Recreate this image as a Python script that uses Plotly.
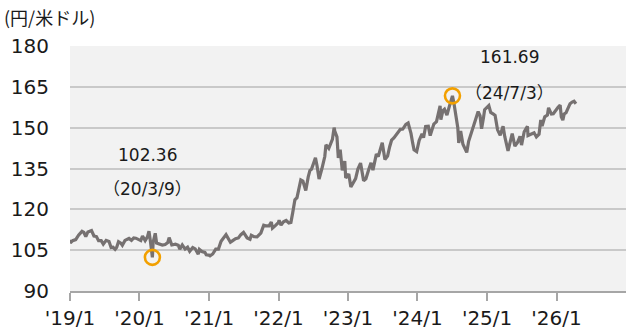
import plotly.graph_objects as go

# USD/JPY rate (yen per dollar), sampled roughly twice a month
dates = [
    "2019-01-01", "2019-01-03", "2019-01-15", "2019-01-31", "2019-02-15", "2019-02-28",
    "2019-03-05", "2019-03-15", "2019-03-25", "2019-04-05", "2019-04-24", "2019-05-07",
    "2019-05-20", "2019-05-31", "2019-06-14", "2019-06-25", "2019-07-10", "2019-07-25",
    "2019-08-05", "2019-08-15", "2019-08-26", "2019-09-03", "2019-09-13", "2019-09-25",
    "2019-10-03", "2019-10-17", "2019-10-30", "2019-11-07", "2019-11-20", "2019-12-02",
    "2019-12-13", "2019-12-30",
    "2020-01-08", "2020-01-17", "2020-01-31", "2020-02-12", "2020-02-20", "2020-02-28",
    "2020-03-09", "2020-03-13", "2020-03-24", "2020-03-31", "2020-04-15", "2020-04-30",
    "2020-05-15", "2020-05-29", "2020-06-05", "2020-06-19", "2020-07-08", "2020-07-23",
    "2020-07-31", "2020-08-13", "2020-08-28", "2020-09-10", "2020-09-21", "2020-10-07",
    "2020-10-20", "2020-11-05", "2020-11-11", "2020-11-24", "2020-12-10", "2020-12-17",
    "2020-12-31",
    "2021-01-06", "2021-01-20", "2021-02-05", "2021-02-19", "2021-03-05", "2021-03-31",
    "2021-04-14", "2021-04-23", "2021-05-07", "2021-05-20", "2021-06-04", "2021-06-17",
    "2021-07-01", "2021-07-20", "2021-08-04", "2021-08-11", "2021-08-25", "2021-09-10",
    "2021-09-30", "2021-10-15", "2021-10-29", "2021-11-12", "2021-11-24", "2021-11-30",
    "2021-12-15", "2021-12-31",
    "2022-01-04", "2022-01-14", "2022-01-27", "2022-02-10", "2022-02-24", "2022-03-07",
    "2022-03-16", "2022-03-28", "2022-04-08", "2022-04-20", "2022-04-28", "2022-05-09",
    "2022-05-24", "2022-06-06", "2022-06-15", "2022-06-23", "2022-07-14", "2022-07-22",
    "2022-08-02", "2022-08-17", "2022-09-01", "2022-09-07", "2022-09-22", "2022-10-11",
    "2022-10-20", "2022-10-24", "2022-11-04", "2022-11-11", "2022-11-21", "2022-12-02",
    "2022-12-15", "2022-12-20",
    "2023-01-05", "2023-01-16", "2023-01-31", "2023-02-10", "2023-02-22", "2023-03-08",
    "2023-03-24", "2023-04-05", "2023-04-20", "2023-05-02", "2023-05-12", "2023-05-30",
    "2023-06-09", "2023-06-20", "2023-06-30", "2023-07-14", "2023-07-28", "2023-08-08",
    "2023-08-18", "2023-08-30", "2023-09-15", "2023-10-03", "2023-10-16", "2023-11-01",
    "2023-11-13", "2023-11-28", "2023-12-07", "2023-12-14", "2023-12-28",
    "2024-01-10", "2024-01-25", "2024-02-02", "2024-02-13", "2024-02-27", "2024-03-08",
    "2024-03-27", "2024-04-10", "2024-04-29", "2024-05-03", "2024-05-14", "2024-05-22",
    "2024-06-04", "2024-06-14", "2024-06-26", "2024-07-03", "2024-07-11", "2024-07-24",
    "2024-07-31", "2024-08-05", "2024-08-15", "2024-08-27", "2024-09-16", "2024-09-26",
    "2024-10-04", "2024-10-15", "2024-10-31", "2024-11-15", "2024-11-25", "2024-12-03",
    "2024-12-13", "2024-12-19",
    "2025-01-10", "2025-01-20", "2025-02-03", "2025-02-12", "2025-02-25", "2025-03-11",
    "2025-03-26", "2025-04-04", "2025-04-21", "2025-05-02", "2025-05-13", "2025-05-27",
    "2025-06-10", "2025-06-23", "2025-07-01", "2025-07-15", "2025-08-01", "2025-08-04",
    "2025-08-20", "2025-09-05", "2025-09-17", "2025-10-01", "2025-10-10", "2025-10-17",
    "2025-10-31", "2025-11-14", "2025-11-20", "2025-12-05", "2025-12-15", "2025-12-26",
    "2026-01-09", "2026-01-20", "2026-01-26", "2026-02-03", "2026-02-10", "2026-02-20",
    "2026-03-03", "2026-03-13", "2026-03-24", "2026-04-03", "2026-04-13",
]
usdjpy = [
    108.8, 107.7, 108.5, 108.9, 110.5, 111.4,
    111.9, 111.5, 110.0, 111.7, 112.2, 110.2,
    110.0, 108.5, 108.5, 107.2, 108.6, 108.2,
    106.0, 106.1, 105.3, 106.0, 108.1, 107.6,
    106.8, 108.6, 108.9, 109.3, 108.6, 109.5,
    109.4, 108.8,
    108.5, 110.2, 108.5, 109.9, 112.0, 108.1,
    102.36, 107.9, 111.2, 107.6, 107.2, 106.9,
    107.1, 107.8, 109.6, 106.9, 107.2, 106.8,
    105.4, 106.9, 105.4, 106.1, 104.6, 106.0,
    105.5, 103.5, 105.3, 104.5, 104.2, 103.3,
    103.2,
    102.9, 103.6, 105.4, 105.4, 108.3, 110.7,
    109.0, 107.9, 108.6, 109.2, 109.5, 110.7,
    111.5, 109.5, 109.0, 110.5, 110.0, 109.9,
    111.3, 114.2, 113.9, 113.9, 115.3, 113.1,
    114.0, 115.1,
    116.0, 114.2, 115.4, 115.9, 115.0, 115.2,
    118.6, 123.5, 124.3, 128.5, 130.8, 130.4,
    126.9, 131.9, 134.3, 134.7, 138.9, 136.1,
    131.1, 135.0, 139.4, 143.7, 142.4, 145.7,
    150.0, 148.7, 146.6, 138.9, 141.9, 134.3,
    137.7, 131.5,
    133.0, 128.2, 130.1, 131.3, 134.8, 137.0,
    130.5, 131.2, 134.6, 137.1, 134.4, 140.3,
    139.4, 141.9, 144.5, 138.3, 139.6, 143.0,
    145.4, 146.2, 147.8, 149.4, 149.5, 151.2,
    151.7, 147.9, 144.3, 141.9, 141.2,
    145.3, 147.7, 146.3, 150.4, 150.5, 147.1,
    151.3, 152.2, 158.0, 152.9, 156.3, 156.8,
    154.6, 157.2, 160.1, 161.69, 158.9, 153.9,
    150.0, 144.4, 148.8, 143.9, 140.9, 145.0,
    146.6, 149.3, 152.8, 155.9, 154.4, 149.6,
    153.6, 156.6,
    158.1, 155.6, 155.0, 154.5, 149.2, 147.2,
    150.5, 146.7, 141.5, 144.9, 147.8, 143.2,
    144.6, 146.8, 143.6, 148.5, 150.5, 147.1,
    147.5, 148.1, 146.6, 147.6, 152.8, 150.6,
    154.0, 154.6, 157.3, 155.0, 155.1, 156.4,
    157.5, 158.3, 154.0, 152.8, 155.0, 155.5,
    157.5, 158.8, 159.4, 159.7, 158.8,
]

# Highlighted extremes: low of 2020-03-09 and high of 2024-07-03
mark_dates = ["2020-03-09", "2024-07-03"]
mark_values = [102.36, 161.69]
mark_labels = ["(20/3/9)", "(24/7/3)"]

tick_dates = ["2019-01-01", "2020-01-01", "2021-01-01", "2022-01-01",
              "2023-01-01", "2024-01-01", "2025-01-01", "2026-01-01"]
tick_text = ["'19/1", "'20/1", "'21/1", "'22/1", "'23/1", "'24/1", "'25/1", "'26/1"]
y_ticks = [90, 105, 120, 135, 150, 165, 180]

FONT = "DejaVu Sans, Noto Sans CJK JP, sans-serif"
LINE_GRAY = "#767171"
ORANGE = "#F2A000"

fig = go.Figure()
fig.add_trace(go.Scatter(
    x=dates, y=usdjpy, mode="lines",
    line=dict(color=LINE_GRAY, width=3.2),
    hoverinfo="skip", showlegend=False,
))
fig.add_trace(go.Scatter(
    x=mark_dates, y=mark_values, mode="markers",
    marker=dict(symbol="circle-open", size=15, color=ORANGE,
                line=dict(color=ORANGE, width=2.6)),
    hoverinfo="skip", showlegend=False,
))

# value and date labels for the two marked points
label_offsets = [(-5, 140.0, 127.4), (57, 175.9, 162.7)]
for d, v, lab, (dx, y_val, y_date) in zip(mark_dates, mark_values, mark_labels, label_offsets):
    fig.add_annotation(x=d, y=y_val, xref="x", yref="y", text=f"{v:.2f}",
                       showarrow=False, xshift=dx,
                       font=dict(family=FONT, size=17, color="#1a1a1a"))
    full = lab.replace("(", "\uff08").replace(")", "\uff09")
    fig.add_annotation(x=d, y=y_date, xref="x", yref="y", text=full,
                       showarrow=False, xshift=dx,
                       font=dict(family=FONT, size=17, color="#1a1a1a"))

fig.add_annotation(x=0, y=1, xref="paper", yref="paper", text="(円/米ドル)",
                   xanchor="left", yanchor="middle", showarrow=False,
                   xshift=-68, yshift=29,
                   font=dict(family="Noto Sans CJK JP, sans-serif", size=18, color="#1a1a1a"))

fig.update_layout(
    width=626, height=331,
    margin=dict(l=70, r=0, t=46, b=40),
    paper_bgcolor="white",
    plot_bgcolor="#F2F2F2",
    font=dict(family=FONT, size=20, color="#1a1a1a"),
)
fig.update_xaxes(
    type="date", range=["2019-01-01", "2027-01-01"],
    tickvals=tick_dates, ticktext=tick_text,
    ticks="outside", ticklen=8, tickwidth=1.5, tickcolor="#A6A6A6",
    showline=True, linecolor="#A6A6A6", linewidth=1.5,
    showgrid=False, zeroline=False, automargin=False,
    tickfont=dict(family=FONT, size=20, color="#1a1a1a"),
)
fig.update_yaxes(
    range=[90, 180], tickvals=y_ticks,
    showgrid=True, gridcolor="#C9C9C9", gridwidth=1.5,
    showline=False, zeroline=False, ticks="", automargin=False,
    ticklabelstandoff=20,
    tickfont=dict(family=FONT, size=20, color="#1a1a1a"),
)

fig.write_html("out.html")
